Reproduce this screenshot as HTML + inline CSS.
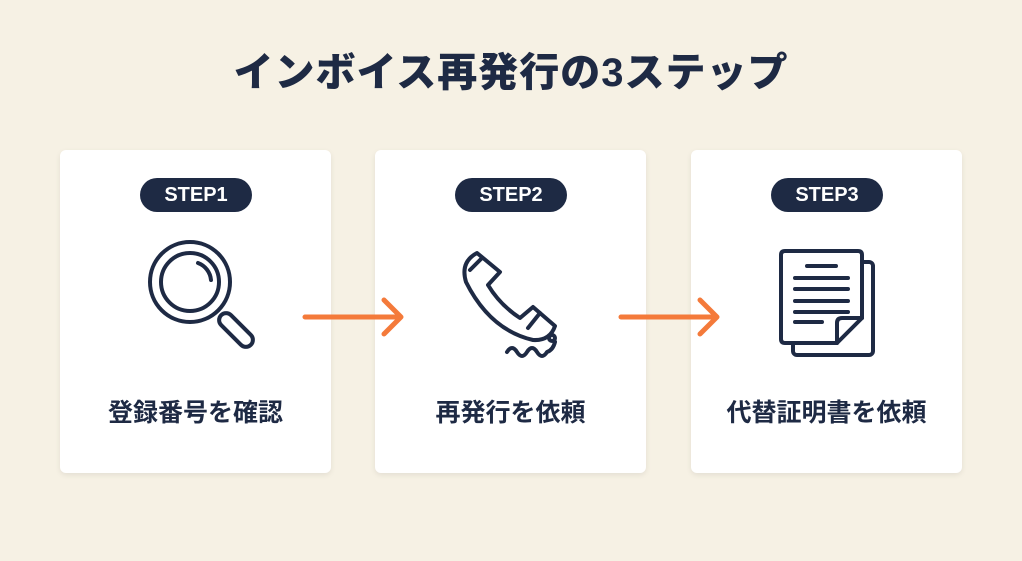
<!DOCTYPE html>
<html><head><meta charset="utf-8"><style>
body{margin:0;width:1022px;height:561px;background:#f6f1e4;font-family:"Liberation Sans","Noto Sans CJK JP",sans-serif;position:relative;overflow:hidden}
h1{position:absolute;top:40px;left:0;width:1022px;text-align:center;margin:0;font-size:40px;font-weight:900;color:#1e2a44;letter-spacing:1px}
.card{position:absolute;top:150px;width:271px;height:323px;background:#fff;border-radius:6px;box-shadow:0 2px 6px rgba(0,0,0,0.08)}
.badge{position:absolute;top:28px;left:80px;width:112px;height:34px;border-radius:17px;background:#1e2a44;color:#fff;font-weight:bold;font-size:20px;text-align:center;line-height:34px}
.lbl{position:absolute;top:243px;left:0;width:100%;text-align:center;font-size:25px;font-weight:bold;color:#1e2a44}
svg{position:absolute;left:0;top:0}
</style></head><body>
<h1>インボイス再発行の3ステップ</h1>
<div class="card" style="left:60px"><div class="badge">STEP1</div><div class="lbl">登録番号を確認</div></div>
<div class="card" style="left:375px"><div class="badge">STEP2</div><div class="lbl">再発行を依頼</div></div>
<div class="card" style="left:691px"><div class="badge">STEP3</div><div class="lbl">代替証明書を依頼</div></div>
<svg width="1022" height="561" fill="none" stroke="#1e2a44" stroke-width="4" stroke-linecap="round" stroke-linejoin="round">
<circle cx="190" cy="282" r="40"/>
<circle cx="190" cy="282" r="29"/>
<path d="M198 263 A20 20 0 0 1 211 280"/>
<rect x="215" y="323" width="42" height="14" rx="7" transform="rotate(45 236 330)"/>
<path d="M477 253 L500 272 L488 285 Q500 305 520 318 L533 307 L555 326 Q550 341 533 340 Q490 330 466 282 Q460 262 477 253 Z"/>
<path d="M482 258 L470 270"/>
<path d="M540 313 L528 328"/>
<circle cx="552" cy="338" r="3"/>
<path d="M507 352 q5 -8 10 0 q5 8 10 0 q5 -8 10 0 q5 8 10 0 q6 -2 8 -10"/>
<rect x="793" y="262" width="80" height="93" rx="4"/>
<path d="M785 251 H858 Q862 251 862 255 V318 L837 343 H785 Q781 343 781 339 V255 Q781 251 785 251 Z" fill="#fff"/>
<path d="M862 318 H842 Q837 318 837 323 V343"/>
<path d="M807 266 H836 M795 278 H848 M795 289 H848 M795 301 H848 M795 312 H848 M795 322 H822"/>
<g stroke="#f47a3a" stroke-width="5">
<path d="M305 317 H399 M384 300 L401 317 L384 334"/>
<path d="M621 317 H715 M700 300 L717 317 L700 334"/>
</g>
</svg>
</body></html>
